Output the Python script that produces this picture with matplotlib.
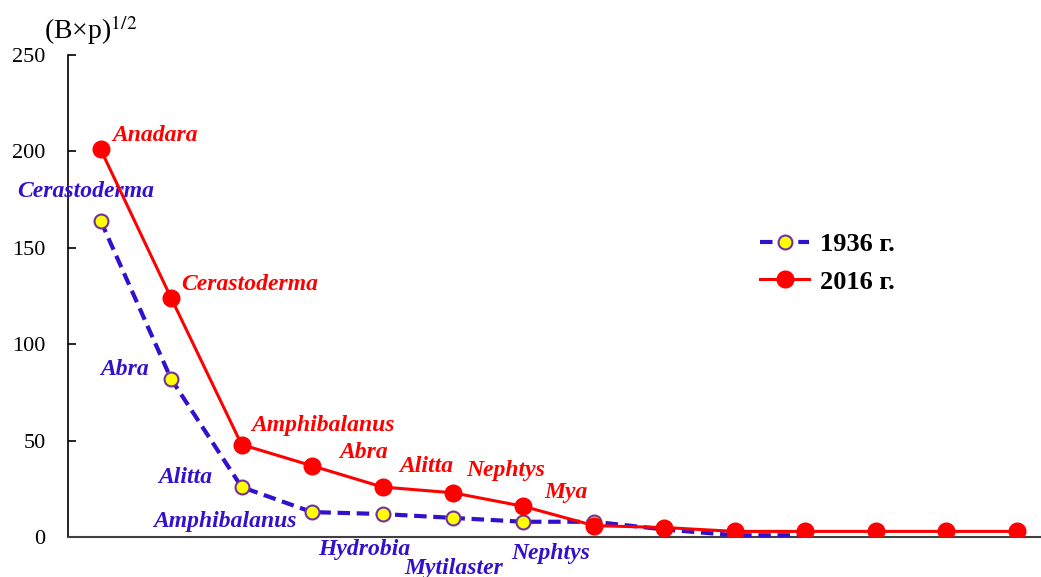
import numpy as np
import matplotlib.pyplot as plt

plt.rcParams['font.family'] = ['Liberation Serif', 'DejaVu Serif']
plt.rcParams['mathtext.fontset'] = 'stix'

# данные
y1936 = [164, 82, 26, 13, 12, 10, 8, 8, 4, 1, 1]
y2016 = [201, 124, 48, 37, 26, 23, 16, 6, 5, 3, 3, 3, 3, 3]
names1936 = ['Cerastoderma', 'Abra', 'Alitta', 'Amphibalanus', 'Hydrobia', 'Mytilaster', 'Nephtys']
names2016 = ['Anadara', 'Cerastoderma', 'Amphibalanus', 'Abra', 'Alitta', 'Nephtys', 'Mya']
yticks = [0, 50, 100, 150, 200, 250]

blue = '#3311CC'
red = '#FF0000'

fig = plt.figure(figsize=(10.41, 5.77), dpi=100)
ax = fig.add_axes([0.065, 0.069, 0.934, 0.836])

x1 = np.arange(len(y1936))
x2 = np.arange(len(y2016))
ax.plot(x1, y1936, ls='--', dashes=(3, 1.6), color=blue, lw=3, marker='o', ms=10,
        mfc='#FFFF00', mec='#7030A0', mew=1.5, label='1936 г.', zorder=3)
ax.plot(x2, y2016, color=red, lw=2.2, marker='o', ms=12, mfc=red, mec=red,
        label='2016 г.', zorder=4)

# подписи видов
lab_kw = dict(fontsize=17, fontweight='bold', style='italic', ha='left', va='center')
pos2016 = [(0.17, 208), (1.15, 131), (2.14, 58), (3.39, 44),
           (4.24, 36.5), (5.19, 34.5), (6.3, 23)]
for (xx, yy), nm in zip(pos2016, names2016):
    ax.text(xx, yy, nm, color=red, **lab_kw)

pos1936 = [(-1.19, 179), (-0.01, 87), (0.81, 31), (0.74, 8.3),
           (3.08, -6.2), (4.31, -16), (5.82, -8.3)]
for (xx, yy), nm in zip(pos1936, names1936):
    ax.text(xx, yy, nm, color=blue, clip_on=False, **lab_kw)

ax.set_xlim(-0.468, 13.33)
ax.set_ylim(0, 250)
ax.set_yticks(yticks)
ax.tick_params(axis='y', labelsize=16, direction='in', length=6, width=1.2, pad=16)
ax.set_xticks([])
for s in ['top', 'right']:
    ax.spines[s].set_visible(False)
ax.spines['left'].set_linewidth(1.2)
ax.spines['bottom'].set_linewidth(1.5)
ax.spines['bottom'].set_color('#404040')

fig.text(44 / 1041, 1 - 30 / 577, r'(B×p)$^{1/2}$', fontsize=20, ha='left', va='center')

leg = ax.legend(loc='center left', bbox_to_anchor=(747 / 1041, 1 - 263 / 577),
                bbox_transform=fig.transFigure, frameon=False, borderpad=0,
                prop={'size': 19, 'weight': 'bold'}, handlelength=1.85, handletextpad=0.4,
                labelspacing=0.55)

fig.savefig('out.png')
